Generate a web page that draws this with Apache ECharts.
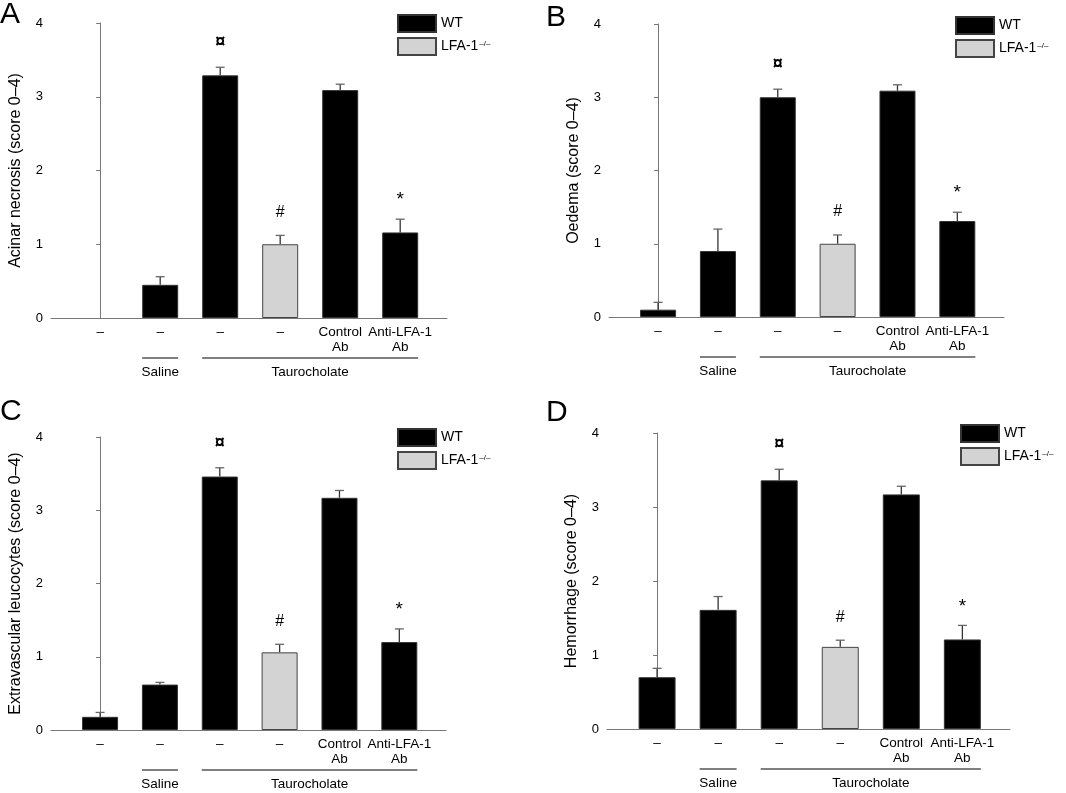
<!DOCTYPE html>
<html>
<head>
<meta charset="utf-8">
<script src="https://cdn.jsdelivr.net/npm/echarts@6/dist/echarts.min.js"></script>
<style>
html,body{margin:0;padding:0;background:#fff;}
#chart{width:1066px;height:793px;}
</style>
</head>
<body>
<div id="chart"></div>
<script>
// ---------- data ----------
const categories = ['–', '–', '–', '–', 'Control\nAb', 'Anti-LFA-1\nAb'];
const genotype = ['WT', 'WT', 'WT', 'LFA', 'WT', 'WT'];
const annotations = ['', '', '¤', '#', '', '*'];
const groups = [
  { name: 'Saline', from: 1, to: 1 },
  { name: 'Taurocholate', from: 2, to: 5 }
];
const yTicks = [0, 1, 2, 3, 4];
const panelLetters = ['A', 'B', 'C', 'D'];
const yTitles = [
  'Acinar necrosis (score 0–4)',
  'Oedema (score 0–4)',
  'Extravascular leucocytes (score 0–4)',
  'Hemorrhage (score 0–4)'
];
const meansA = [0, 0.45, 3.29, 1.00, 3.09, 1.16];
const errA   = [0, 0.11, 0.11, 0.12, 0.08, 0.18];
const meansB = [0.10, 0.90, 3.00, 1.00, 3.09, 1.31];
const errB   = [0.10, 0.30, 0.11, 0.12, 0.08, 0.12];
const meansC = [0.18, 0.62, 3.46, 1.06, 3.17, 1.20];
const errC   = [0.06, 0.03, 0.12, 0.11, 0.10, 0.18];
const meansD = [0.70, 1.61, 3.36, 1.11, 3.17, 1.21];
const errD   = [0.12, 0.18, 0.15, 0.09, 0.11, 0.19];
const legendNames = ['WT', 'LFA-1'];

// ---------- layout / style ----------
const FONT = 'Liberation Sans, Arial, Helvetica, sans-serif';
const layouts = [
  { grid: { left: 51, top: 23, width: 396, height: 295 }, legend: { left: 397, top: 14 }, letter: { left: 0, top: 0 }, barW: 36 },
  { grid: { left: 609, top: 24, width: 395, height: 293 }, legend: { left: 955, top: 16 }, letter: { left: 546, top: 3 }, barW: 36 },
  { grid: { left: 51, top: 437, width: 395, height: 293 }, legend: { left: 397, top: 428 }, letter: { left: 0, top: 397 }, barW: 36 },
  { grid: { left: 607, top: 433, width: 403, height: 296 }, legend: { left: 960, top: 424 }, letter: { left: 546, top: 398 }, barW: 37 }
];
const allMeans = [meansA, meansB, meansC, meansD];
const allErr = [errA, errB, errC, errD];
const AXIS_COLOR = '#777';
const WT_COLOR = '#000';
const LFA_COLOR = '#d3d3d3';
const ANN_FONT = { '¤': 'bold 18px ', '#': '16px ', '*': '19px ' };
const ANN_GAP = { '¤': 25, '#': 23, '*': 22 };

const option = {
  animation: false,
  backgroundColor: '#fff',
  textStyle: { fontFamily: FONT },
  title: [], legend: [], grid: [], xAxis: [], yAxis: [], series: []
};

layouts.forEach((L, p) => {
  const means = allMeans[p];
  const err = allErr[p];
  option.title.push({
    text: panelLetters[p], left: L.letter.left, top: L.letter.top, padding: 0,
    textStyle: { fontSize: 30, fontWeight: 'normal', color: '#000', fontFamily: FONT }
  });
  option.grid.push(Object.assign({ containLabel: false }, L.grid));
  option.legend.push({
    orient: 'vertical', left: L.legend.left, top: L.legend.top, padding: 0,
    itemWidth: 38, itemHeight: 17, itemGap: 4, icon: 'rect', selectedMode: false,
    data: legendNames,
    formatter: n => n === 'LFA-1' ? 'LFA-1{sup|–/–}' : n,
    textStyle: {
      fontSize: 14, color: '#000', fontFamily: FONT,
      rich: { sup: { fontSize: 8, verticalAlign: 'top', padding: [0, 0, 6, 1], color: '#000', fontFamily: FONT } }
    }
  });
  option.xAxis.push({
    type: 'value', gridIndex: p, min: -0.82, max: 5.78,
    axisLine: { show: true, onZero: false, lineStyle: { color: AXIS_COLOR, width: 1 } },
    axisTick: { show: false },
    splitLine: { show: false },
    axisLabel: {
      customValues: categories.map((c, i) => i),
      formatter: v => categories[Math.round(v)],
      margin: 7, fontSize: 13.5, lineHeight: 15, color: '#000', fontFamily: FONT
    }
  });
  option.yAxis.push({
    type: 'value', gridIndex: p, min: 0, max: 4, interval: 1,
    name: yTitles[p], nameLocation: 'middle', nameGap: 27,
    nameTextStyle: { fontSize: 16, color: '#000', fontFamily: FONT },
    axisLine: { show: true, lineStyle: { color: AXIS_COLOR, width: 1 } },
    axisTick: { show: true, length: 4, lineStyle: { color: AXIS_COLOR } },
    splitLine: { show: false },
    axisLabel: { margin: 8, fontSize: 13, color: '#000', fontFamily: FONT,
      formatter: v => yTicks.includes(v) ? String(v) : '' }
  });
  const wtData = [], lfaData = [];
  means.forEach((v, i) => {
    const item = { value: [i, v] };
    if (v === 0) item.itemStyle = { borderWidth: 0 };
    (genotype[i] === 'WT' ? wtData : lfaData).push(item);
  });
  option.series.push({
    name: 'WT', type: 'bar', xAxisIndex: p, yAxisIndex: p, barWidth: L.barW, barGap: '-100%',
    itemStyle: { color: WT_COLOR, borderColor: '#333', borderWidth: 1 },
    data: wtData
  });
  option.series.push({
    name: 'LFA-1', type: 'bar', xAxisIndex: p, yAxisIndex: p, barWidth: L.barW, barGap: '-100%',
    itemStyle: { color: LFA_COLOR, borderColor: '#444', borderWidth: 1 },
    data: lfaData
  });
  // error bars + significance marks
  option.series.push({
    type: 'custom', xAxisIndex: p, yAxisIndex: p, clip: false, silent: true,
    data: means.map((v, i) => [i, v, err[i]]),
    renderItem: (params, api) => {
      const x = api.value(0), m = api.value(1), e = api.value(2);
      const base = api.coord([x, m]);
      const top = api.coord([x, m + e]);
      const children = [];
      if (e > 0) {
        children.push({ type: 'line', shape: { x1: base[0], y1: base[1], x2: top[0], y2: top[1] },
          style: { stroke: '#333', lineWidth: 1.3 } });
        children.push({ type: 'line', shape: { x1: top[0] - 4.5, y1: top[1], x2: top[0] + 4.5, y2: top[1] },
          style: { stroke: '#666', lineWidth: 1.3 } });
      }
      const a = annotations[params.dataIndex];
      if (a) {
        children.push({ type: 'text', x: top[0], y: top[1] - ANN_GAP[a] + (a === '*' ? 3 : 0),
          style: { text: a, fill: '#000', font: ANN_FONT[a] + FONT,
            align: 'center', verticalAlign: 'middle' } });
      }
      return { type: 'group', children };
    }
  });
  // group brackets (Saline / Taurocholate)
  option.series.push({
    type: 'custom', xAxisIndex: p, yAxisIndex: p, clip: false, silent: true,
    data: groups.map(g => [g.from, g.to]),
    renderItem: (params, api) => {
      const a = api.coord([api.value(0), 0]);
      const b = api.coord([api.value(1), 0]);
      const half = L.barW / 2;
      const y = a[1] + 40;
      return { type: 'group', children: [
        { type: 'line', shape: { x1: a[0] - half, y1: y, x2: b[0] + half, y2: y }, style: { stroke: '#000', lineWidth: 1 } },
        { type: 'text', x: (a[0] + b[0]) / 2, y: y + 14,
          style: { text: groups[params.dataIndex].name, fill: '#000', font: '13.5px ' + FONT, align: 'center', verticalAlign: 'middle' } }
      ] };
    }
  });
});

const chart = echarts.init(document.getElementById('chart'), null, { renderer: 'canvas' });
chart.setOption(option);
</script>
</body>
</html>
